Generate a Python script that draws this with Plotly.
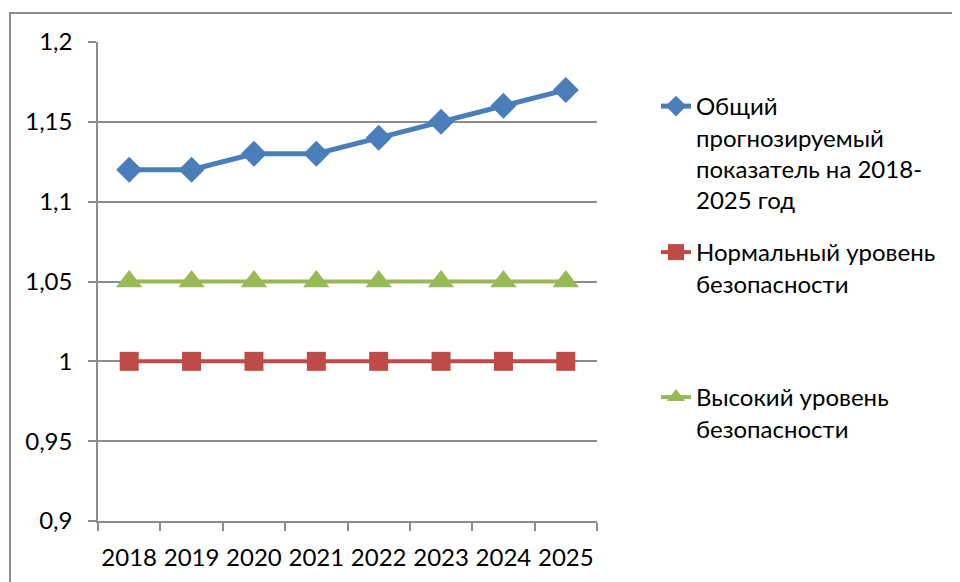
import plotly.graph_objects as go

years = ["2018", "2019", "2020", "2021", "2022", "2023", "2024", "2025"]
forecast = [1.12, 1.12, 1.13, 1.13, 1.14, 1.15, 1.16, 1.17]
normal_level = [1.0, 1.0, 1.0, 1.0, 1.0, 1.0, 1.0, 1.0]
high_level = [1.05, 1.05, 1.05, 1.05, 1.05, 1.05, 1.05, 1.05]

y_tickvals = [0.9, 0.95, 1.0, 1.05, 1.1, 1.15, 1.2]
y_ticktext = ["0,9", "0,95", "1", "1,05", "1,1", "1,15", "1,2"]

names = [
    "Общий<br>прогнозируемый<br>показатель на 2018-<br>2025 год",
    "Нормальный уровень<br>безопасности",
    "Высокий уровень<br>безопасности",
]

OFF = 8  # page body margin
W, H = 960, 582
# plot area in screen pixels
SL, SR, ST, SB = 98, 597, 42, 521
L, R, T, B = SL - OFF, SR - OFF, ST - OFF, SB - OFF
pw, ph = R - L, B - T

def px_x(sx):
    return (sx - OFF - L) / pw

def px_y(sy):
    return (B - (sy - OFF)) / ph

FONT = "Lato"
FS = 24
GRID = "#8c8c8c"

fig = go.Figure()
fig.add_trace(go.Scatter(
    x=years, y=forecast, name=names[0], mode="lines+markers",
    line=dict(color="#4A7EBB", width=5),
    marker=dict(symbol="diamond", size=20, color="#4A7EBB"),
    legend="legend",
))
fig.add_trace(go.Scatter(
    x=years, y=normal_level, name=names[1], mode="lines+markers",
    line=dict(color="#BE4B48", width=4),
    marker=dict(symbol="square", size=19, color="#BE4B48"),
    legend="legend2",
))
fig.add_trace(go.Scatter(
    x=years, y=high_level, name=names[2], mode="lines+markers",
    line=dict(color="#98B954", width=4),
    marker=dict(symbol="triangle-up", size=23, color="#98B954"),
    legend="legend3",
))

leg_common = dict(
    font=dict(family=FONT, size=FS, color="#000000"),
    bgcolor="rgba(0,0,0,0)", borderwidth=0, valign="top",
    xanchor="left", yanchor="middle", x=px_x(656),
)

fig.update_layout(
    width=W, height=H,
    margin=dict(l=L, r=W - R, t=T, b=H - B, autoexpand=False),
    plot_bgcolor="white", paper_bgcolor="white",
    font=dict(family=FONT, size=FS, color="#000000"),
    showlegend=True,
    legend=dict(**leg_common, y=px_y(153)),
    legend2=dict(**leg_common, y=px_y(268)),
    legend3=dict(**leg_common, y=px_y(413)),
    xaxis=dict(
        type="category", tickson="boundaries", ticks="outside", ticklen=8,
        tickcolor=GRID, tickwidth=1.5, showline=True, linecolor=GRID, linewidth=1.5,
        showgrid=False, tickfont=dict(family=FONT, size=FS), ticklabelstandoff=14,
        tickangle=0, automargin=False,
        range=[-0.5, 7.5], fixedrange=True,
    ),
    yaxis=dict(
        range=[0.9, 1.2], tickvals=y_tickvals, ticktext=y_ticktext,
        ticks="outside", ticklen=8, tickcolor=GRID, tickwidth=1.5,
        showline=True, linecolor=GRID, linewidth=1.5, automargin=False,
        showgrid=True, gridcolor=GRID, gridwidth=1.5, zeroline=False,
        tickfont=dict(family=FONT, size=FS), ticklabelstandoff=11,
    ),
    shapes=[dict(
        type="rect", xref="paper", yref="paper",
        x0=px_x(10), x1=px_x(990), y0=px_y(610), y1=px_y(13),
        line=dict(color=GRID, width=2), fillcolor="rgba(0,0,0,0)", layer="below",
    )],
)

fig.write_html("out.html")
